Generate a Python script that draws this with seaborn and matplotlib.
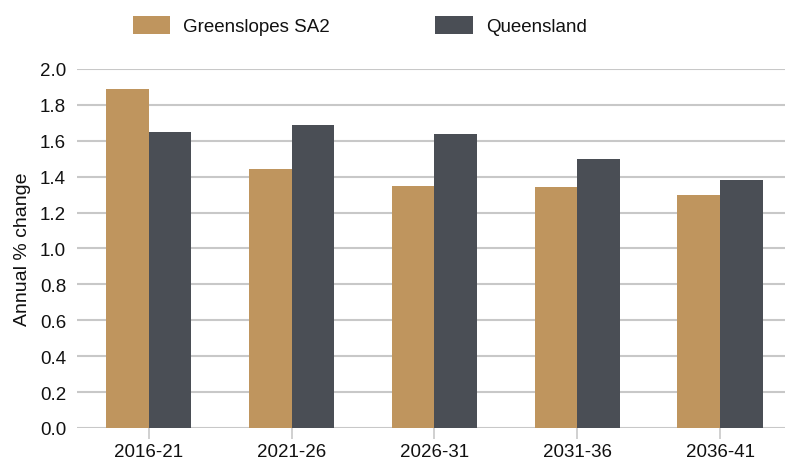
import pandas as pd
import seaborn as sns
import matplotlib.pyplot as plt

periods = ["2016-21", "2021-26", "2026-31", "2031-36", "2036-41"]
greenslopes = [1.89, 1.44, 1.35, 1.34, 1.30]
queensland = [1.65, 1.69, 1.64, 1.50, 1.38]
series_names = ["Greenslopes SA2", "Queensland"]

df = pd.DataFrame({
    "period": periods * 2,
    "value": greenslopes + queensland,
    "area": [series_names[0]] * len(periods) + [series_names[1]] * len(periods),
})

sns.set_style("white")
plt.rcParams["font.family"] = ["Liberation Sans", "DejaVu Sans"]

fig = plt.figure(figsize=(7.87, 4.6), dpi=100)
ax = fig.add_axes([0.098, 0.0674, 0.899, 0.7806])

sns.barplot(
    data=df, x="period", y="value", hue="area", order=periods,
    hue_order=series_names, palette=["#BF955E", "#4A4E55"],
    width=0.6, saturation=1, linewidth=0, ax=ax, legend=True,
)

ax.set_ylim(0, 2.0)
ax.set_xlim(-0.5, 4.45)
ax.set_yticks([i / 5 for i in range(11)])
ax.set_yticklabels([f"{i / 5:.1f}" for i in range(11)])
ax.yaxis.grid(True, color="#C8C8C8", linewidth=1.5)
ax.set_axisbelow(True)
for s in ax.spines.values():
    s.set_visible(False)

ax.tick_params(axis="y", length=0, labelsize=13.5, pad=8, labelcolor="#111111")
ax.tick_params(axis="x", bottom=True, length=8, width=1.2, color="#C8C8C8",
               labelsize=13.5, pad=3, labelcolor="#111111")
ax.set_xlabel("")
ax.set_ylabel("Annual % change", fontsize=14, labelpad=6, color="#111111")

handles, labels = ax.get_legend_handles_labels()
ax.legend_.remove()
fig.legend(
    handles, labels, loc="upper center", bbox_to_anchor=(0.457, 1.0),
    ncol=2, frameon=False, fontsize=13.5, handlelength=2.0, handleheight=1.1,
    columnspacing=5.6, handletextpad=0.7, labelcolor="#111111",
)

fig.savefig("out.png", dpi=100)
